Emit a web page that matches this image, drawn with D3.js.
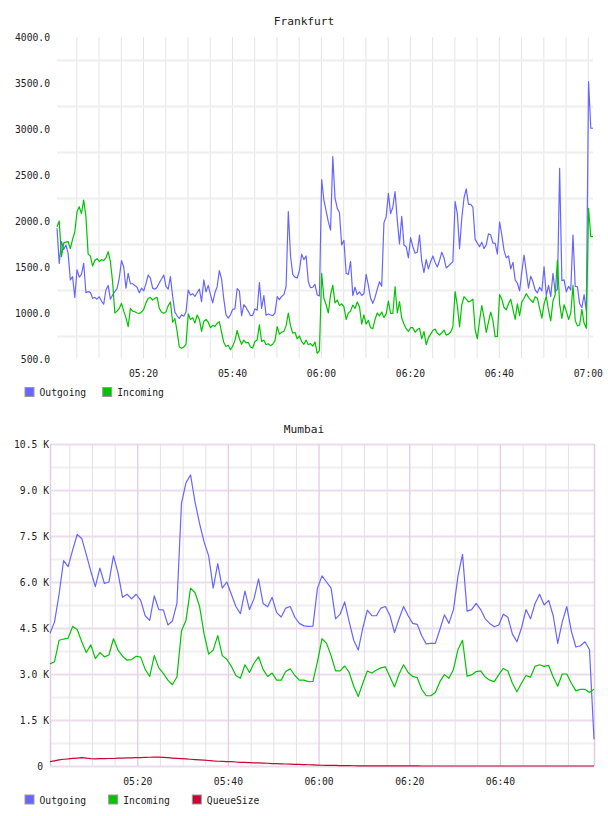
<!DOCTYPE html>
<html>
<head>
<meta charset="utf-8">
<script src="https://cdn.jsdelivr.net/npm/d3@7.9.0/dist/d3.min.js"></script>
<style>
  body { margin: 0; background: #fff; }
  svg text { font-family: "DejaVu Sans Mono", monospace; }
</style>
</head>
<body>
<svg id="chart" width="608" height="816"></svg>
<script>
// ---- data ----
const frankfurtStart = "05:00:40";
const frankfurtStepSeconds = 30;
const frankfurtOutgoing = [
  1921, 1540, 1780, 1690, 1739, 1650, 1360, 1395, 1170, 1470,
  1390, 1420, 1540, 1220, 1232, 1225, 1160, 1170, 1150, 1177,
  1130, 1095, 1250, 1300, 1150, 1196, 1232, 1265, 1380, 1570,
  1500, 1269, 1430, 1320, 1318, 1300, 1280, 1220, 1269, 1240,
  1320, 1413, 1380, 1270, 1258, 1280, 1330, 1370, 1413, 1290,
  1260, 1395, 1180, 1010, 970, 940, 980, 965, 1010, 1250,
  1196, 1210, 1180, 1220, 1260, 1123, 1359, 1230, 1300, 1200,
  1110, 1220, 1286, 1460, 1370, 1150, 980, 945, 980, 1040,
  1045, 1265, 1240, 970, 1090, 1060, 1018, 970, 975, 1045,
  1030, 1330, 1050, 1190, 975, 990, 978, 972, 1000, 1177,
  1145, 1180, 1200, 1286, 2101, 1620, 1420, 1390, 1380, 1460,
  1640, 1580, 1620, 1340, 1275, 1280, 1310, 1196, 1185, 2450,
  2228, 2110, 1990, 1900, 2699, 2250, 2140, 2090, 1740, 1790,
  1432, 1420, 1560, 1190, 1280, 1200, 1230, 1190, 1210, 1420,
  1300, 1160, 1105, 1170, 1260, 1340, 1290, 1980, 2047, 2300,
  2080, 2150, 2319, 2010, 1750, 2050, 1740, 1720, 1600, 1820,
  1720, 1650, 1660, 1848, 1560, 1440, 1580, 1480, 1558, 1620,
  1550, 1500, 1570, 1660, 1600, 1490, 1510, 1535, 1558, 2210,
  2080, 1700, 2030, 2250, 2350, 2180, 2180, 2150, 1800, 1760,
  1720, 1770, 1700, 1740, 1860, 1850, 1760, 1760, 1640, 1990,
  1850, 1680, 1600, 1620, 1480, 1550, 1360, 1323, 1240, 1450,
  1630, 1450, 1270, 1400, 1340, 1250, 1220, 1280, 1240, 1503,
  1190, 1300, 1177, 1430, 1230, 1260, 2573, 1350, 1360, 1230,
  1290, 1250, 1848, 1290, 1286, 1100, 1060, 1200, 1020, 3514,
  3008, 3008
];
const frankfurtIncoming = [
  1938, 2000, 1612, 1760, 1770, 1775, 1700, 1800, 1880, 2100,
  2155, 2080, 2228, 2050, 1640, 1620, 1510, 1570, 1590, 1560,
  1580, 1570, 1600, 1666, 1560, 1340, 1000, 1020, 1050, 1105,
  1020, 950, 851, 1051, 1020, 1014, 1000, 995, 1010, 1040,
  1110, 1160, 1170, 1140, 1160, 1170, 1050, 1010, 997, 1010,
  1080, 1120, 900, 940, 800, 630, 616, 630, 660, 990,
  930, 950, 890, 978, 930, 800, 910, 930, 900, 840,
  865, 855, 888, 905, 790, 680, 636, 650, 600, 640,
  700, 810, 720, 660, 705, 675, 680, 630, 620, 690,
  707, 870, 690, 705, 655, 665, 645, 660, 700, 851,
  770, 790, 800, 860, 1000, 860, 780, 790, 720, 750,
  690, 660, 705, 655, 668, 640, 685, 562, 590, 1432,
  1160, 1090, 1000, 1200, 1300, 1110, 1141, 1080, 1100, 1069,
  930, 1000, 1020, 1087, 1050, 1120, 1069, 880, 980, 880,
  920, 840, 830, 930, 1000, 970, 1010, 950, 990, 1130,
  997, 997, 1286, 1000, 1123, 945, 880, 830, 800, 840,
  840, 790, 820, 834, 720, 797, 655, 730, 770, 810,
  825, 780, 760, 785, 815, 760, 770, 790, 851, 1232,
  1080, 850, 1090, 1177, 1150, 1120, 1130, 1150, 820, 720,
  920, 1080, 950, 790, 900, 1010, 920, 743, 745, 1200,
  1150, 1060, 1035, 1100, 1150, 1040, 930, 1100, 970, 1120,
  1160, 1210, 1170, 1141, 1115, 1177, 1160, 1050, 945, 1100,
  1180, 1030, 915, 1130, 1200, 1576, 1100, 942, 1090, 1020,
  930, 1000, 1300, 920, 860, 870, 1040, 888, 834, 2138,
  1830, 1830
];
const frankfurtYTicks = [500, 1000, 1500, 2000, 2500, 3000, 3500, 4000];
const frankfurtGridValues = [750, 1250, 1750, 2250, 2750, 3250, 3750];

const mumbaiStart = "05:00:45";
const mumbaiStepSeconds = 60;
const mumbaiOutgoing = [
  4325, 4700, 5600, 6700, 6500, 7050, 7550, 7420, 6900, 6350,
  5850, 6450, 5950, 6000, 6850, 6300, 5500, 5600, 5450, 5600,
  5400, 4900, 4750, 5550, 5100, 5090, 4600, 4730, 5300, 8560,
  9240, 9490, 8600, 7900, 7300, 6850, 5800, 6600, 5800, 6000,
  5600, 5200, 4970, 5700, 5100, 5450, 6100, 5300, 5190, 5500,
  5000, 4860, 5150, 5200, 4850, 4650, 4570, 4550, 4560, 5800,
  6200, 6000, 5800, 4800, 4950, 5350, 4700, 4100, 3780, 4500,
  5080, 4900, 4900, 5150, 5200, 4900, 4350, 4800, 5200, 4900,
  4650, 4620, 4250, 3980, 4000, 4000, 4450, 4930, 4650, 5100,
  6200, 6900, 5050, 5100, 5300, 5100, 4800, 4650, 4540, 4600,
  4950, 4850, 4300, 4050, 4500, 5100, 4800, 5300, 5600, 5250,
  5400, 4900, 4000, 4700, 5200, 4400, 3880, 3920, 4050, 3800,
  870
];
const mumbaiIncoming = [
  3330, 3400, 4100, 4140, 4170, 4550, 4450, 4050, 3700, 3950,
  3500, 3700, 3560, 3620, 4150, 3780, 3580, 3450, 3470, 3580,
  3550, 3150, 2920, 3600, 3200, 3020, 2800, 2650, 2900, 4400,
  4750, 5800, 5650, 5200, 4300, 3650, 3780, 4250, 3600, 3480,
  3250, 2950, 2860, 3300, 3050, 3350, 3560, 3150, 2920, 3030,
  2800, 2800, 3080, 3170, 2950, 2800, 2800, 2750, 2760, 3400,
  4150, 4000, 3600, 3100, 3100, 3260, 3050, 2600, 2270, 2700,
  3100, 3030, 3130, 3200, 3230, 2900, 2580, 3000, 3300, 3050,
  2920, 2880, 2500, 2290, 2290, 2400, 2750, 2980, 2860, 3150,
  3800, 4100, 2930, 2970, 3080, 3100, 2900, 2800, 2750, 2980,
  3180, 3100, 2700, 2420, 2700, 2950, 2900, 3250, 3300, 3250,
  3280, 2900, 2600, 3000, 3000, 2700, 2450, 2500, 2500, 2400,
  2500
];
const mumbaiQueueSize = [
  140, 170, 200, 220, 230, 250, 260, 270, 260, 240,
  235, 240, 240, 245, 245, 255, 260, 265, 265, 270,
  275, 280, 285, 290, 290, 280, 270, 260, 250, 240,
  230, 220, 210, 200, 190, 180, 165, 155, 150, 145,
  140, 130, 120, 115, 110, 105, 100, 95, 90, 80,
  75, 70, 65, 60, 55, 50, 45, 40, 35, 30,
  25, 22, 20, 18, 15, 12, 10, 8, 6, 5,
  4, 4, 3, 3, 3, 2, 2, 2, 1, 1,
  1, 1, 0, 0, 0, 0, 0, 0, 0, 0,
  0, 0, 0, 0, 0, 0, 0, 0, 0, 0,
  0, 0, 0, 0, 0, 0, 0, 0, 0, 0,
  0, 0, 0, 0, 0, 0, 0, 0, 0, 0,
  0
];
const mumbaiYTicks = [0, 1500, 3000, 4500, 6000, 7500, 9000, 10500];
const mumbaiMinorValues = [750, 2250, 3750, 5250, 6750, 8250, 9750];
const mumbaiTimeLabels = ["05:20", "05:40", "06:00", "06:20", "06:40"];
const mumbaiGridEnd = "07:00:00";

const seriesNames = ["Outgoing", "Incoming", "QueueSize"];
const seriesColors = ["#6666ff", "#00c400", "#cc0033"];

// ---- helpers ----
const width = 608;
const parseTime = d3.timeParse("%H:%M:%S");
const fontSize = 9.7;
const svg = d3.select("#chart");

function toPoints(start, stepSeconds, values) {
  const t0 = parseTime(start);
  return values.map((v, i) => ({ time: d3.timeSecond.offset(t0, i * stepSeconds), value: v }));
}

function styleAxisText(sel) {
  sel.select(".domain").remove();
  sel.attr("font-family", "DejaVu Sans Mono, monospace")
    .attr("font-size", fontSize)
    .style("color", "#222");
}

function drawTitle(text, baseline) {
  svg.append("text")
    .attr("x", width / 2)
    .attr("y", baseline)
    .attr("text-anchor", "middle")
    .attr("font-size", 11.2)
    .attr("fill", "#222")
    .text(text);
}

function drawLines(points, x, y, color) {
  const line = d3.line().x(d => x(d.time)).y(d => y(d.value));
  svg.append("path")
    .datum(points)
    .attr("fill", "none")
    .attr("stroke", color)
    .attr("stroke-width", 1.2)
    .attr("stroke-linejoin", "round")
    .attr("d", line);
}

function drawLegend(count, x0, baseline, gap) {
  let x = x0;
  for (let i = 0; i < count; i++) {
    svg.append("rect")
      .attr("x", x + 0.5).attr("y", baseline - 8.5)
      .attr("width", 9).attr("height", 9)
      .attr("fill", seriesColors[i])
      .attr("stroke", "#999");
    const t = svg.append("text")
      .attr("x", x + 15).attr("y", baseline)
      .attr("font-size", fontSize)
      .attr("fill", "#222")
      .text(seriesNames[i]);
    x += 15 + t.node().getComputedTextLength() + gap;
  }
}

// ---- Frankfurt ----
function drawFrankfurt() {
  const area = { left: 57, right: 593, top: 37, bottom: 359 };
  const outgoing = toPoints(frankfurtStart, frankfurtStepSeconds, frankfurtOutgoing);
  const incoming = toPoints(frankfurtStart, frankfurtStepSeconds, frankfurtIncoming);

  const x = d3.scaleTime().domain(d3.extent(outgoing, d => d.time)).range([area.left, area.right]);
  const y = d3.scaleLinear().domain([500, 4000]).range([area.bottom, area.top]);

  drawTitle("Frankfurt", 25);

  // vertical gridlines every 5 minutes
  svg.append("g")
    .attr("transform", `translate(0, ${area.top})`)
    .call(d3.axisBottom(x).ticks(d3.timeMinute.every(5)).tickSize(area.bottom - 1 - area.top).tickFormat(""))
    .call(g => g.select(".domain").remove())
    .call(g => g.selectAll("line").attr("stroke", "#e4e4e4"));

  // horizontal gridlines
  svg.append("g")
    .attr("transform", `translate(${area.left}, 0)`)
    .call(d3.axisLeft(y).tickValues(frankfurtGridValues).tickSize(-(area.right - area.left)).tickFormat(""))
    .call(g => g.select(".domain").remove())
    .call(g => g.selectAll("line").attr("stroke", "#eeeeee").attr("stroke-width", 2));

  svg.append("g")
    .attr("transform", `translate(${area.left}, 0)`)
    .call(d3.axisLeft(y).tickValues(frankfurtYTicks).tickFormat(d3.format(".1f")).tickSize(0).tickPadding(7))
    .call(styleAxisText);

  svg.append("g")
    .attr("transform", `translate(0, ${area.bottom})`)
    .call(d3.axisBottom(x).ticks(d3.timeMinute.every(20)).tickFormat(d3.timeFormat("%H:%M")).tickSize(0).tickPadding(11))
    .call(styleAxisText);

  drawLines(outgoing, x, y, seriesColors[0]);
  drawLines(incoming, x, y, seriesColors[1]);

  drawLegend(2, 24.5, 396, 16);
}

// ---- Mumbai ----
function drawMumbai() {
  const area = { left: 50, right: 594, top: 444, bottom: 766 };
  const outgoing = toPoints(mumbaiStart, mumbaiStepSeconds, mumbaiOutgoing);
  const incoming = toPoints(mumbaiStart, mumbaiStepSeconds, mumbaiIncoming);
  const queue = toPoints(mumbaiStart, mumbaiStepSeconds, mumbaiQueueSize);

  const x = d3.scaleTime().domain(d3.extent(outgoing, d => d.time)).range([area.left, area.right]);
  const y = d3.scaleLinear().domain([0, 10500]).range([area.bottom, area.top]);

  drawTitle("Mumbai", 433);

  const gridEnd = parseTime(mumbaiGridEnd);
  const labelTimes = mumbaiTimeLabels.map(s => parseTime(s + ":00"));
  const minorTimes = x.ticks(d3.timeMinute.every(5)).filter(t => t < gridEnd && !labelTimes.some(l => +l === +t));

  // minor horizontal
  svg.append("g")
    .attr("transform", `translate(${area.left}, 0)`)
    .call(d3.axisLeft(y).tickValues(mumbaiMinorValues).tickSize(-(area.right - area.left)).tickFormat(""))
    .call(g => g.select(".domain").remove())
    .call(g => g.selectAll("line").attr("stroke", "#efefef").attr("stroke-width", 2));

  // minor vertical
  svg.append("g")
    .attr("transform", `translate(0, ${area.top})`)
    .call(d3.axisBottom(x).tickValues(minorTimes).tickSize(area.bottom - area.top).tickFormat(""))
    .call(g => g.select(".domain").remove())
    .call(g => g.selectAll("line").attr("stroke", "#e6e0e6"));

  // major horizontal
  svg.append("g")
    .attr("transform", `translate(${area.left}, 0)`)
    .call(d3.axisLeft(y).tickValues(mumbaiYTicks).tickSize(-(area.right - area.left)).tickFormat(""))
    .call(g => g.select(".domain").remove())
    .call(g => g.selectAll("line").attr("stroke", "#ecdcec").attr("stroke-width", 2));

  // major vertical
  svg.append("g")
    .attr("transform", `translate(0, ${area.top})`)
    .call(d3.axisBottom(x).tickValues(labelTimes).tickSize(area.bottom - area.top).tickFormat(""))
    .call(g => g.select(".domain").remove())
    .call(g => g.selectAll("line").attr("stroke", "#e2cce2").attr("stroke-width", 1.3));

  // frame sides
  svg.append("g")
    .attr("transform", `translate(0, ${area.top})`)
    .call(d3.axisBottom(x).tickValues(x.domain()).tickSize(area.bottom - area.top).tickFormat(""))
    .call(g => g.select(".domain").remove())
    .call(g => g.selectAll("line").attr("stroke", "#e4cce4").attr("stroke-width", 1.5));

  svg.append("g")
    .attr("transform", `translate(${area.left}, 0)`)
    .call(d3.axisLeft(y).tickValues(mumbaiYTicks)
      .tickFormat(v => v === 0 ? "0 " : d3.format(".1f")(v / 1000) + " K")
      .tickSize(0).tickPadding(1))
    .call(styleAxisText)
    .call(g => g.selectAll("text").style("white-space", "pre"));

  svg.append("g")
    .attr("transform", `translate(0, ${area.bottom})`)
    .call(d3.axisBottom(x).tickValues(labelTimes).tickFormat(d3.timeFormat("%H:%M")).tickSize(0).tickPadding(12))
    .call(styleAxisText);

  drawLines(outgoing, x, y, seriesColors[0]);
  drawLines(incoming, x, y, seriesColors[1]);
  drawLines(queue, x, y, seriesColors[2]);

  drawLegend(3, 24.5, 803.5, 22);
}

drawFrankfurt();
drawMumbai();
</script>
</body>
</html>
